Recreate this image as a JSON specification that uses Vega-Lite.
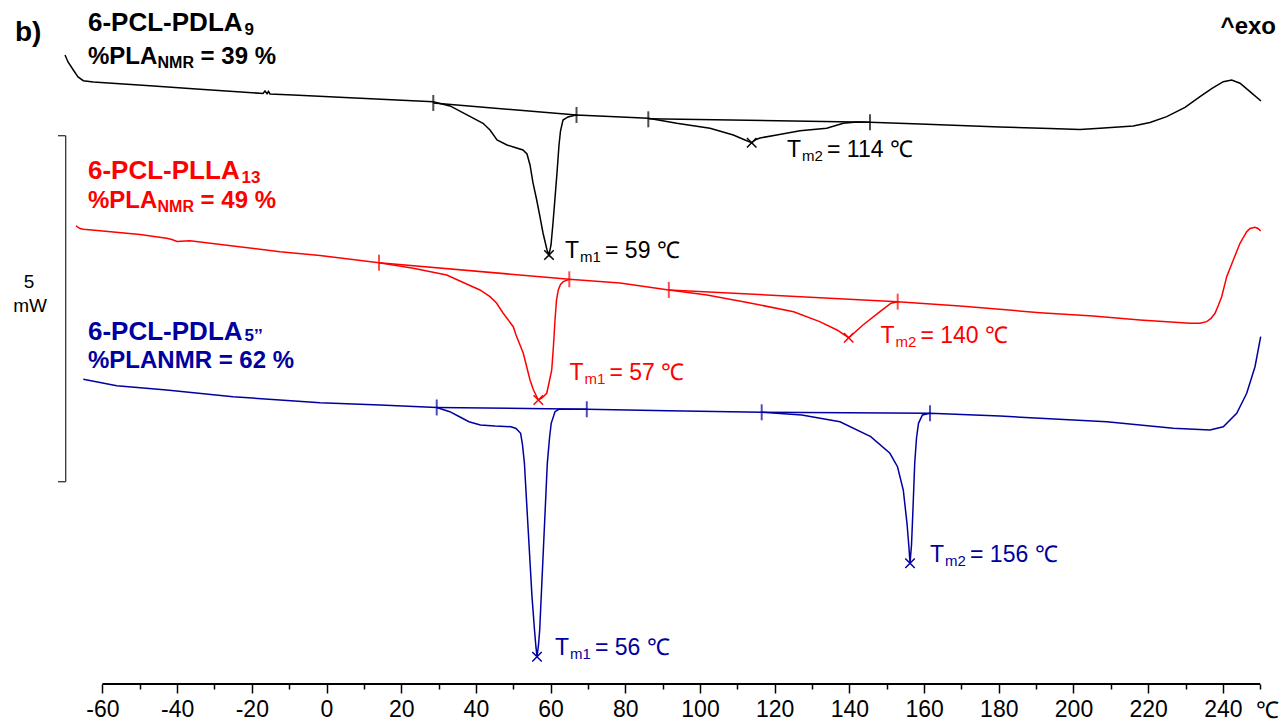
{
  "$schema": "https://vega.github.io/schema/vega-lite/v6.json",
  "width": 1281,
  "height": 684,
  "padding": {"left": 0, "top": 0, "right": 0, "bottom": 38},
  "autosize": {"type": "none"},
  "background": "white",
  "config": {"font": "Liberation Sans", "view": {"stroke": null}, "legend": {"disable": true}},
  "datasets": {
    "lines": [
      {"s":"PDLA9","id":"PDLA9","x":-70.01,"y":9.090},{"s":"PDLA9","id":"PDLA9","x":-69.21,"y":8.989},{"s":"PDLA9","id":"PDLA9","x":-67.79,"y":8.873},{"s":"PDLA9","id":"PDLA9","x":-66.53,"y":8.772},{"s":"PDLA9","id":"PDLA9","x":-65.11,"y":8.718},{"s":"PDLA9","id":"PDLA9","x":-62.44,"y":8.700},{"s":"PDLA9","id":"PDLA9","x":-47.26,"y":8.645},{"s":"PDLA9","id":"PDLA9","x":-33.87,"y":8.595},{"s":"PDLA9","id":"PDLA9","x":-17.80,"y":8.536},{"s":"PDLA9","id":"PDLA9","x":-17.00,"y":8.533},{"s":"PDLA9","id":"PDLA9","x":-16.47,"y":8.569},{"s":"PDLA9","id":"PDLA9","x":-15.93,"y":8.529},{"s":"PDLA9","id":"PDLA9","x":-15.53,"y":8.562},{"s":"PDLA9","id":"PDLA9","x":-15.13,"y":8.526},{"s":"PDLA9","id":"PDLA9","x":-8.89,"y":8.512},{"s":"PDLA9","id":"PDLA9","x":6.29,"y":8.473},{"s":"PDLA9","id":"PDLA9","x":28.59,"y":8.415},{"s":"PDLA9","id":"PDLA9","x":30.39,"y":8.389},{"s":"PDLA9","id":"PDLA9","x":33.07,"y":8.353},{"s":"PDLA9","id":"PDLA9","x":37.62,"y":8.223},{"s":"PDLA9","id":"PDLA9","x":41.90,"y":8.103},{"s":"PDLA9","id":"PDLA9","x":43.78,"y":8.006},{"s":"PDLA9","id":"PDLA9","x":45.65,"y":7.861},{"s":"PDLA9","id":"PDLA9","x":48.33,"y":7.789},{"s":"PDLA9","id":"PDLA9","x":50.47,"y":7.753},{"s":"PDLA9","id":"PDLA9","x":52.61,"y":7.717},{"s":"PDLA9","id":"PDLA9","x":53.68,"y":7.659},{"s":"PDLA9","id":"PDLA9","x":54.49,"y":7.500},{"s":"PDLA9","id":"PDLA9","x":55.29,"y":7.240},{"s":"PDLA9","id":"PDLA9","x":56.28,"y":6.994},{"s":"PDLA9","id":"PDLA9","x":57.16,"y":6.749},{"s":"PDLA9","id":"PDLA9","x":57.97,"y":6.517},{"s":"PDLA9","id":"PDLA9","x":59.04,"y":6.272},{"s":"PDLA9","id":"PDLA9","x":59.57,"y":6.199},{"s":"PDLA9","id":"PDLA9","x":60.11,"y":6.344},{"s":"PDLA9","id":"PDLA9","x":60.64,"y":6.662},{"s":"PDLA9","id":"PDLA9","x":61.18,"y":7.023},{"s":"PDLA9","id":"PDLA9","x":61.71,"y":7.384},{"s":"PDLA9","id":"PDLA9","x":62.25,"y":7.789},{"s":"PDLA9","id":"PDLA9","x":62.65,"y":7.991},{"s":"PDLA9","id":"PDLA9","x":63.32,"y":8.150},{"s":"PDLA9","id":"PDLA9","x":64.66,"y":8.194},{"s":"PDLA9","id":"PDLA9","x":66.80,"y":8.223},{"s":"PDLA9","id":"PDLA9","x":75.90,"y":8.201},{"s":"PDLA9","id":"PDLA9","x":86.16,"y":8.175},{"s":"PDLA9","id":"PDLA9","x":93.76,"y":8.103},{"s":"PDLA9","id":"PDLA9","x":102.68,"y":8.031},{"s":"PDLA9","id":"PDLA9","x":108.92,"y":7.934},{"s":"PDLA9","id":"PDLA9","x":112.05,"y":7.861},{"s":"PDLA9","id":"PDLA9","x":113.84,"y":7.822},{"s":"PDLA9","id":"PDLA9","x":115.00,"y":7.869},{"s":"PDLA9","id":"PDLA9","x":116.07,"y":7.890},{"s":"PDLA9","id":"PDLA9","x":120.54,"y":7.934},{"s":"PDLA9","id":"PDLA9","x":126.78,"y":7.996},{"s":"PDLA9","id":"PDLA9","x":133.92,"y":8.031},{"s":"PDLA9","id":"PDLA9","x":138.37,"y":8.103},{"s":"PDLA9","id":"PDLA9","x":141.96,"y":8.121},{"s":"PDLA9","id":"PDLA9","x":145.52,"y":8.117},{"s":"PDLA9","id":"PDLA9","x":158.90,"y":8.093},{"s":"PDLA9","id":"PDLA9","x":180.32,"y":8.049},{"s":"PDLA9","id":"PDLA9","x":193.71,"y":8.028},{"s":"PDLA9","id":"PDLA9","x":201.74,"y":8.013},{"s":"PDLA9","id":"PDLA9","x":207.10,"y":8.031},{"s":"PDLA9","id":"PDLA9","x":216.01,"y":8.064},{"s":"PDLA9","id":"PDLA9","x":220.48,"y":8.114},{"s":"PDLA9","id":"PDLA9","x":224.96,"y":8.198},{"s":"PDLA9","id":"PDLA9","x":229.86,"y":8.331},{"s":"PDLA9","id":"PDLA9","x":233.87,"y":8.487},{"s":"PDLA9","id":"PDLA9","x":237.09,"y":8.606},{"s":"PDLA9","id":"PDLA9","x":240.11,"y":8.704},{"s":"PDLA9","id":"PDLA9","x":242.36,"y":8.728},{"s":"PDLA9","id":"PDLA9","x":244.58,"y":8.681},{"s":"PDLA9","id":"PDLA9","x":247.26,"y":8.559},{"s":"PDLA9","id":"PDLA9","x":250.20,"y":8.425},
      {"s":"PDLA9","id":"PDLA9 base 1","x":28.59,"y":8.396},{"s":"PDLA9","id":"PDLA9 base 1","x":66.94,"y":8.223},
      {"s":"PDLA9","id":"PDLA9 base 2","x":86.16,"y":8.168},{"s":"PDLA9","id":"PDLA9 base 2","x":145.52,"y":8.117},
      {"s":"PLLA13","id":"PLLA13","x":-67.07,"y":6.619},{"s":"PLLA13","id":"PLLA13","x":-66.00,"y":6.582},{"s":"PLLA13","id":"PLLA13","x":-65.11,"y":6.571},{"s":"PLLA13","id":"PLLA13","x":-60.64,"y":6.551},{"s":"PLLA13","id":"PLLA13","x":-49.93,"y":6.496},{"s":"PLLA13","id":"PLLA13","x":-42.79,"y":6.441},{"s":"PLLA13","id":"PLLA13","x":-41.37,"y":6.423},{"s":"PLLA13","id":"PLLA13","x":-40.03,"y":6.395},{"s":"PLLA13","id":"PLLA13","x":-37.89,"y":6.402},{"s":"PLLA13","id":"PLLA13","x":-36.55,"y":6.406},{"s":"PLLA13","id":"PLLA13","x":-25.03,"y":6.330},{"s":"PLLA13","id":"PLLA13","x":-12.45,"y":6.247},{"s":"PLLA13","id":"PLLA13","x":-1.74,"y":6.192},{"s":"PLLA13","id":"PLLA13","x":14.06,"y":6.088},{"s":"PLLA13","id":"PLLA13","x":23.24,"y":6.007},{"s":"PLLA13","id":"PLLA13","x":32.18,"y":5.910},{"s":"PLLA13","id":"PLLA13","x":39.14,"y":5.741},{"s":"PLLA13","id":"PLLA13","x":41.10,"y":5.694},{"s":"PLLA13","id":"PLLA13","x":43.78,"y":5.597},{"s":"PLLA13","id":"PLLA13","x":45.57,"y":5.502},{"s":"PLLA13","id":"PLLA13","x":47.26,"y":5.361},{"s":"PLLA13","id":"PLLA13","x":50.01,"y":5.163},{"s":"PLLA13","id":"PLLA13","x":50.74,"y":5.043},{"s":"PLLA13","id":"PLLA13","x":52.69,"y":4.779},{"s":"PLLA13","id":"PLLA13","x":53.68,"y":4.567},{"s":"PLLA13","id":"PLLA13","x":54.49,"y":4.393},{"s":"PLLA13","id":"PLLA13","x":55.42,"y":4.249},{"s":"PLLA13","id":"PLLA13","x":56.71,"y":4.104},{"s":"PLLA13","id":"PLLA13","x":57.70,"y":4.133},{"s":"PLLA13","id":"PLLA13","x":58.96,"y":4.201},{"s":"PLLA13","id":"PLLA13","x":59.57,"y":4.350},{"s":"PLLA13","id":"PLLA13","x":60.30,"y":4.538},{"s":"PLLA13","id":"PLLA13","x":60.78,"y":4.899},{"s":"PLLA13","id":"PLLA13","x":61.18,"y":5.260},{"s":"PLLA13","id":"PLLA13","x":61.58,"y":5.549},{"s":"PLLA13","id":"PLLA13","x":62.06,"y":5.694},{"s":"PLLA13","id":"PLLA13","x":62.65,"y":5.773},{"s":"PLLA13","id":"PLLA13","x":63.40,"y":5.814},{"s":"PLLA13","id":"PLLA13","x":65.01,"y":5.848},{"s":"PLLA13","id":"PLLA13","x":78.58,"y":5.795},{"s":"PLLA13","id":"PLLA13","x":91.65,"y":5.694},{"s":"PLLA13","id":"PLLA13","x":101.88,"y":5.621},{"s":"PLLA13","id":"PLLA13","x":113.39,"y":5.506},{"s":"PLLA13","id":"PLLA13","x":125.06,"y":5.380},{"s":"PLLA13","id":"PLLA13","x":132.05,"y":5.236},{"s":"PLLA13","id":"PLLA13","x":136.68,"y":5.116},{"s":"PLLA13","id":"PLLA13","x":139.81,"y":5.004},{"s":"PLLA13","id":"PLLA13","x":143.64,"y":5.188},{"s":"PLLA13","id":"PLLA13","x":148.19,"y":5.380},{"s":"PLLA13","id":"PLLA13","x":151.14,"y":5.502},{"s":"PLLA13","id":"PLLA13","x":152.93,"y":5.525},{"s":"PLLA13","id":"PLLA13","x":169.61,"y":5.462},{"s":"PLLA13","id":"PLLA13","x":191.03,"y":5.366},{"s":"PLLA13","id":"PLLA13","x":205.22,"y":5.318},{"s":"PLLA13","id":"PLLA13","x":217.81,"y":5.260},{"s":"PLLA13","id":"PLLA13","x":231.19,"y":5.213},{"s":"PLLA13","id":"PLLA13","x":233.87,"y":5.214},{"s":"PLLA13","id":"PLLA13","x":235.67,"y":5.236},{"s":"PLLA13","id":"PLLA13","x":236.82,"y":5.282},{"s":"PLLA13","id":"PLLA13","x":237.89,"y":5.357},{"s":"PLLA13","id":"PLLA13","x":238.82,"y":5.477},{"s":"PLLA13","id":"PLLA13","x":239.68,"y":5.597},{"s":"PLLA13","id":"PLLA13","x":241.02,"y":5.886},{"s":"PLLA13","id":"PLLA13","x":242.79,"y":6.127},{"s":"PLLA13","id":"PLLA13","x":244.58,"y":6.369},{"s":"PLLA13","id":"PLLA13","x":246.38,"y":6.536},{"s":"PLLA13","id":"PLLA13","x":247.26,"y":6.582},{"s":"PLLA13","id":"PLLA13","x":248.60,"y":6.600},{"s":"PLLA13","id":"PLLA13","x":249.40,"y":6.582},{"s":"PLLA13","id":"PLLA13","x":250.12,"y":6.546},
      {"s":"PLLA13","id":"PLLA13 base 1","x":14.06,"y":6.088},{"s":"PLLA13","id":"PLLA13 base 1","x":65.01,"y":5.848},
      {"s":"PLLA13","id":"PLLA13 base 2","x":91.65,"y":5.694},{"s":"PLLA13","id":"PLLA13 base 2","x":152.93,"y":5.525},
      {"s":"PDLA5","id":"PDLA5","x":-65.11,"y":4.403},{"s":"PDLA5","id":"PDLA5","x":-56.17,"y":4.311},{"s":"PDLA5","id":"PDLA5","x":-42.79,"y":4.249},{"s":"PDLA5","id":"PDLA5","x":-25.03,"y":4.152},{"s":"PDLA5","id":"PDLA5","x":-12.45,"y":4.104},{"s":"PDLA5","id":"PDLA5","x":-1.74,"y":4.065},{"s":"PDLA5","id":"PDLA5","x":14.32,"y":4.032},{"s":"PDLA5","id":"PDLA5","x":29.51,"y":3.996},{"s":"PDLA5","id":"PDLA5","x":33.01,"y":3.935},{"s":"PDLA5","id":"PDLA5","x":35.74,"y":3.858},{"s":"PDLA5","id":"PDLA5","x":38.13,"y":3.790},{"s":"PDLA5","id":"PDLA5","x":41.21,"y":3.743},{"s":"PDLA5","id":"PDLA5","x":45.11,"y":3.728},{"s":"PDLA5","id":"PDLA5","x":49.40,"y":3.718},{"s":"PDLA5","id":"PDLA5","x":50.74,"y":3.692},{"s":"PDLA5","id":"PDLA5","x":51.97,"y":3.623},{"s":"PDLA5","id":"PDLA5","x":52.48,"y":3.454},{"s":"PDLA5","id":"PDLA5","x":52.99,"y":3.189},{"s":"PDLA5","id":"PDLA5","x":54.00,"y":2.225},{"s":"PDLA5","id":"PDLA5","x":55.02,"y":1.262},{"s":"PDLA5","id":"PDLA5","x":55.69,"y":0.780},{"s":"PDLA5","id":"PDLA5","x":56.07,"y":0.539},{"s":"PDLA5","id":"PDLA5","x":56.36,"y":0.395},{"s":"PDLA5","id":"PDLA5","x":56.76,"y":0.564},{"s":"PDLA5","id":"PDLA5","x":57.08,"y":0.780},{"s":"PDLA5","id":"PDLA5","x":58.10,"y":1.984},{"s":"PDLA5","id":"PDLA5","x":59.12,"y":3.189},{"s":"PDLA5","id":"PDLA5","x":59.71,"y":3.555},{"s":"PDLA5","id":"PDLA5","x":60.16,"y":3.767},{"s":"PDLA5","id":"PDLA5","x":61.18,"y":3.935},{"s":"PDLA5","id":"PDLA5","x":62.20,"y":3.970},{"s":"PDLA5","id":"PDLA5","x":69.69,"y":3.970},{"s":"PDLA5","id":"PDLA5","x":91.43,"y":3.950},{"s":"PDLA5","id":"PDLA5","x":116.52,"y":3.926},{"s":"PDLA5","id":"PDLA5","x":127.26,"y":3.887},{"s":"PDLA5","id":"PDLA5","x":137.48,"y":3.790},{"s":"PDLA5","id":"PDLA5","x":145.71,"y":3.574},{"s":"PDLA5","id":"PDLA5","x":150.85,"y":3.334},{"s":"PDLA5","id":"PDLA5","x":152.88,"y":3.140},{"s":"PDLA5","id":"PDLA5","x":154.43,"y":2.803},{"s":"PDLA5","id":"PDLA5","x":155.42,"y":2.322},{"s":"PDLA5","id":"PDLA5","x":155.96,"y":1.965},{"s":"PDLA5","id":"PDLA5","x":156.23,"y":1.744},{"s":"PDLA5","id":"PDLA5","x":156.63,"y":2.009},{"s":"PDLA5","id":"PDLA5","x":156.98,"y":2.467},{"s":"PDLA5","id":"PDLA5","x":157.49,"y":3.189},{"s":"PDLA5","id":"PDLA5","x":157.97,"y":3.555},{"s":"PDLA5","id":"PDLA5","x":158.50,"y":3.767},{"s":"PDLA5","id":"PDLA5","x":159.55,"y":3.887},{"s":"PDLA5","id":"PDLA5","x":161.58,"y":3.912},{"s":"PDLA5","id":"PDLA5","x":180.32,"y":3.873},{"s":"PDLA5","id":"PDLA5","x":191.03,"y":3.840},{"s":"PDLA5","id":"PDLA5","x":208.89,"y":3.790},{"s":"PDLA5","id":"PDLA5","x":226.72,"y":3.695},{"s":"PDLA5","id":"PDLA5","x":236.55,"y":3.671},{"s":"PDLA5","id":"PDLA5","x":240.11,"y":3.718},{"s":"PDLA5","id":"PDLA5","x":243.70,"y":3.912},{"s":"PDLA5","id":"PDLA5","x":246.38,"y":4.201},{"s":"PDLA5","id":"PDLA5","x":248.60,"y":4.585},{"s":"PDLA5","id":"PDLA5","x":250.12,"y":5.019},
      {"s":"PDLA5","id":"PDLA5 base 1","x":29.51,"y":3.996},{"s":"PDLA5","id":"PDLA5 base 1","x":69.69,"y":3.970},
      {"s":"PDLA5","id":"PDLA5 base 2","x":116.52,"y":3.926},{"s":"PDLA5","id":"PDLA5 base 2","x":161.58,"y":3.912}
    ],
    "limits": [
      {"s":"PDLA9","x":28.59,"y":8.396},{"s":"PDLA9","x":66.94,"y":8.223},{"s":"PDLA9","x":86.16,"y":8.160},{"s":"PDLA9","x":145.52,"y":8.117},
      {"s":"PLLA13","x":14.06,"y":6.088},{"s":"PLLA13","x":65.01,"y":5.848},{"s":"PLLA13","x":91.65,"y":5.694},{"s":"PLLA13","x":152.93,"y":5.525},
      {"s":"PDLA5","x":29.51,"y":3.996},{"s":"PDLA5","x":69.69,"y":3.970},{"s":"PDLA5","x":116.52,"y":3.926},{"s":"PDLA5","x":161.58,"y":3.912}
    ],
    "peaks": [
      {"s":"PDLA9","x":59.57,"y":6.199},{"s":"PDLA9","x":113.84,"y":7.822},
      {"s":"PLLA13","x":56.71,"y":4.104},{"s":"PLLA13","x":139.81,"y":5.004},
      {"s":"PDLA5","x":56.36,"y":0.395},{"s":"PDLA5","x":156.23,"y":1.744}
    ],
    "annMain": [
      {"s":"PDLA9","x":63.86,"y":6.156,"t":"T"},{"s":"PDLA9","x":74.57,"y":6.156,"t":"= 59 ℃"},
      {"s":"PDLA9","x":123.29,"y":7.616,"t":"T"},{"s":"PDLA9","x":134.00,"y":7.616,"t":"= 114 ℃"},
      {"s":"PLLA13","x":65.06,"y":4.393,"t":"T"},{"s":"PLLA13","x":75.77,"y":4.393,"t":"= 57 ℃"},
      {"s":"PLLA13","x":148.30,"y":4.926,"t":"T"},{"s":"PLLA13","x":159.01,"y":4.926,"t":"= 140 ℃"},
      {"s":"PDLA5","x":61.18,"y":0.419,"t":"T"},{"s":"PDLA5","x":71.89,"y":0.419,"t":"= 56 ℃"},
      {"s":"PDLA5","x":161.58,"y":1.763,"t":"T"},{"s":"PDLA5","x":172.30,"y":1.763,"t":"= 156 ℃"}
    ],
    "annSub": [
      {"s":"PDLA9","x":67.87,"y":6.098,"t":"m1"},{"s":"PDLA9","x":127.31,"y":7.558,"t":"m2"},
      {"s":"PLLA13","x":69.08,"y":4.335,"t":"m1"},{"s":"PLLA13","x":152.32,"y":4.870,"t":"m2"},
      {"s":"PDLA5","x":65.20,"y":0.361,"t":"m1"},{"s":"PDLA5","x":165.60,"y":1.705,"t":"m2"}
    ],
    "headTitle": [
      {"s":"PDLA9","x":-63.86,"y":9.437,"t":"6-PCL-PDLA"},
      {"s":"PLLA13","x":-63.86,"y":7.298,"t":"6-PCL-PLLA"},
      {"s":"PDLA5","x":-63.86,"y":4.971,"t":"6-PCL-PDLA"}
    ],
    "headTitleSub": [
      {"s":"PDLA9","x":-21.95,"y":9.379,"t":"9"},
      {"s":"PLLA13","x":-22.76,"y":7.240,"t":"13"},
      {"s":"PDLA5","x":-21.95,"y":4.956,"t":"5’’"}
    ],
    "headMain": [
      {"s":"PDLA9","x":-63.86,"y":8.960,"t":"%PLA"},{"s":"PDLA9","x":-33.71,"y":8.960,"t":"= 39 %"},
      {"s":"PLLA13","x":-63.86,"y":6.879,"t":"%PLA"},{"s":"PLLA13","x":-33.71,"y":6.879,"t":"= 49 %"},
      {"s":"PDLA5","x":-63.86,"y":4.567,"t":"%PLANMR = 62 %"}
    ],
    "headSub": [
      {"s":"PDLA9","x":-45.25,"y":8.902,"t":"NMR"},
      {"s":"PLLA13","x":-45.25,"y":6.821,"t":"NMR"}
    ]
  },
  "resolve": {"axis": {"x": "independent"}},
  "layer": [
    {
      "data": {"name": "lines"},
      "mark": {"type": "line", "strokeWidth": 1.5},
      "encoding": {
        "x": {"field": "x", "type": "quantitative",
              "scale": {"domain": [-87.42, 255.56], "nice": false, "zero": false},
              "axis": {"orient": "bottom", "values": [-60,-40,-20,0,20,40,60,80,100,120,140,160,180,200,220,240], "domain": false, "grid": false, "title": null,
                       "tickSize": 9, "tickWidth": 1.5, "tickColor": "black", "labelFontSize": 23, "labelColor": "black",
                       "labelFont": "Liberation Sans", "labelPadding": 5, "labelOverlap": false, "labelBound": false, "labelFlush": false,
                       "labelExpr": "'' + datum.value"}},
        "y": {"field": "y", "type": "quantitative", "scale": {"domain": [0, 9.884], "nice": false, "zero": false}, "axis": null},
        "color": {"field": "s", "type": "nominal", "scale": {"domain": ["PDLA9", "PLLA13", "PDLA5"], "range": ["#000000", "#ff0000", "#0000a0"]}, "legend": null},
        "detail": {"field": "id"},
        "order": {"value": null}
      }
    },
    {
      "data": {"values": [{"x": -60, "x2": 250, "y": 0}]},
      "mark": {"type": "rule", "strokeWidth": 2, "color": "black"},
      "encoding": {
        "x": {"field": "x", "type": "quantitative",
              "axis": {"orient": "bottom", "values": [-50,-30,-10,10,30,50,70,90,110,130,150,170,190,210,230,250], "labels": false, "domain": false, "grid": false, "title": null,
                       "tickSize": 5, "tickWidth": 1.5, "tickColor": "black"}},
        "x2": {"field": "x2"},
        "y": {"field": "y", "type": "quantitative", "axis": null}
      }
    },
    {
      "data": {"values": [
        {"x": -69.83, "x2": -69.83, "y": 2.923, "y2": 7.923},
        {"x": -71.89, "x2": -69.83, "y": 7.923, "y2": 7.923},
        {"x": -71.89, "x2": -69.83, "y": 2.923, "y2": 2.923}
      ]},
      "mark": {"type": "rule", "strokeWidth": 1.3, "color": "#333333"},
      "encoding": {
        "x": {"field": "x", "type": "quantitative", "axis": null},
        "x2": {"field": "x2"},
        "y": {"field": "y", "type": "quantitative", "axis": null},
        "y2": {"field": "y2"}
      }
    },
    {
      "data": {"name": "limits"},
      "mark": {"type": "tick", "orient": "vertical", "size": 16, "thickness": 2},
      "encoding": {
        "x": {"field": "x", "type": "quantitative", "axis": null},
        "y": {"field": "y", "type": "quantitative", "axis": null},
        "color": {"field": "s", "type": "nominal", "legend": null}
      }
    },
    {
      "data": {"name": "peaks"},
      "mark": {"type": "point", "shape": "M-1,-1L1,1M-1,1L1,-1", "filled": false, "size": 90, "strokeWidth": 1.5, "opacity": 1},
      "encoding": {
        "x": {"field": "x", "type": "quantitative", "axis": null},
        "y": {"field": "y", "type": "quantitative", "axis": null},
        "color": {"field": "s", "type": "nominal", "legend": null}
      }
    },
    {
      "data": {"name": "annMain"},
      "mark": {"type": "text", "fontSize": 23, "align": "left", "baseline": "alphabetic", "font": "Liberation Sans"},
      "encoding": {
        "x": {"field": "x", "type": "quantitative", "axis": null},
        "y": {"field": "y", "type": "quantitative", "axis": null},
        "text": {"field": "t"},
        "color": {"field": "s", "type": "nominal", "legend": null}
      }
    },
    {
      "data": {"name": "annSub"},
      "mark": {"type": "text", "fontSize": 15, "align": "left", "baseline": "alphabetic", "font": "Liberation Sans"},
      "encoding": {
        "x": {"field": "x", "type": "quantitative", "axis": null},
        "y": {"field": "y", "type": "quantitative", "axis": null},
        "text": {"field": "t"},
        "color": {"field": "s", "type": "nominal", "legend": null}
      }
    },
    {
      "data": {"name": "headTitle"},
      "mark": {"type": "text", "fontSize": 26, "fontWeight": "bold", "align": "left", "baseline": "alphabetic", "font": "Liberation Sans"},
      "encoding": {
        "x": {"field": "x", "type": "quantitative", "axis": null},
        "y": {"field": "y", "type": "quantitative", "axis": null},
        "text": {"field": "t"},
        "color": {"field": "s", "type": "nominal", "legend": null}
      }
    },
    {
      "data": {"name": "headTitleSub"},
      "mark": {"type": "text", "fontSize": 17, "fontWeight": "bold", "align": "left", "baseline": "alphabetic", "font": "Liberation Sans"},
      "encoding": {
        "x": {"field": "x", "type": "quantitative", "axis": null},
        "y": {"field": "y", "type": "quantitative", "axis": null},
        "text": {"field": "t"},
        "color": {"field": "s", "type": "nominal", "legend": null}
      }
    },
    {
      "data": {"name": "headMain"},
      "mark": {"type": "text", "fontSize": 24, "fontWeight": "bold", "align": "left", "baseline": "alphabetic", "font": "Liberation Sans"},
      "encoding": {
        "x": {"field": "x", "type": "quantitative", "axis": null},
        "y": {"field": "y", "type": "quantitative", "axis": null},
        "text": {"field": "t"},
        "color": {"field": "s", "type": "nominal", "legend": null}
      }
    },
    {
      "data": {"name": "headSub"},
      "mark": {"type": "text", "fontSize": 16, "fontWeight": "bold", "align": "left", "baseline": "alphabetic", "font": "Liberation Sans"},
      "encoding": {
        "x": {"field": "x", "type": "quantitative", "axis": null},
        "y": {"field": "y", "type": "quantitative", "axis": null},
        "text": {"field": "t"},
        "color": {"field": "s", "type": "nominal", "legend": null}
      }
    },
    {
      "data": {"values": [{"x": -83.40, "y": 9.292, "t": "b)"}]},
      "mark": {"type": "text", "fontSize": 28, "fontWeight": "bold", "align": "left", "baseline": "alphabetic", "color": "black", "font": "Liberation Sans"},
      "encoding": {
        "x": {"field": "x", "type": "quantitative", "axis": null},
        "y": {"field": "y", "type": "quantitative", "axis": null},
        "text": {"field": "t"}
      }
    },
    {
      "data": {"values": [{"x": 254.22, "y": 9.393, "t": "^exo"}]},
      "mark": {"type": "text", "fontSize": 24, "fontWeight": "bold", "align": "right", "baseline": "alphabetic", "color": "black", "font": "Liberation Sans"},
      "encoding": {
        "x": {"field": "x", "type": "quantitative", "axis": null},
        "y": {"field": "y", "type": "quantitative", "axis": null},
        "text": {"field": "t"}
      }
    },
    {
      "data": {"values": [{"x": -79.65, "y": 5.723, "t": "5"}, {"x": -79.38, "y": 5.376, "t": "mW"}]},
      "mark": {"type": "text", "fontSize": 19, "align": "center", "baseline": "alphabetic", "color": "black", "font": "Liberation Sans"},
      "encoding": {
        "x": {"field": "x", "type": "quantitative", "axis": null},
        "y": {"field": "y", "type": "quantitative", "axis": null},
        "text": {"field": "t"}
      }
    },
    {
      "data": {"values": [{"x": 255.02, "y": -0.491, "t": "℃"}]},
      "mark": {"type": "text", "fontSize": 23, "align": "right", "baseline": "alphabetic", "color": "black", "font": "Liberation Sans"},
      "encoding": {
        "x": {"field": "x", "type": "quantitative", "axis": null},
        "y": {"field": "y", "type": "quantitative", "axis": null},
        "text": {"field": "t"}
      }
    }
  ]
}
